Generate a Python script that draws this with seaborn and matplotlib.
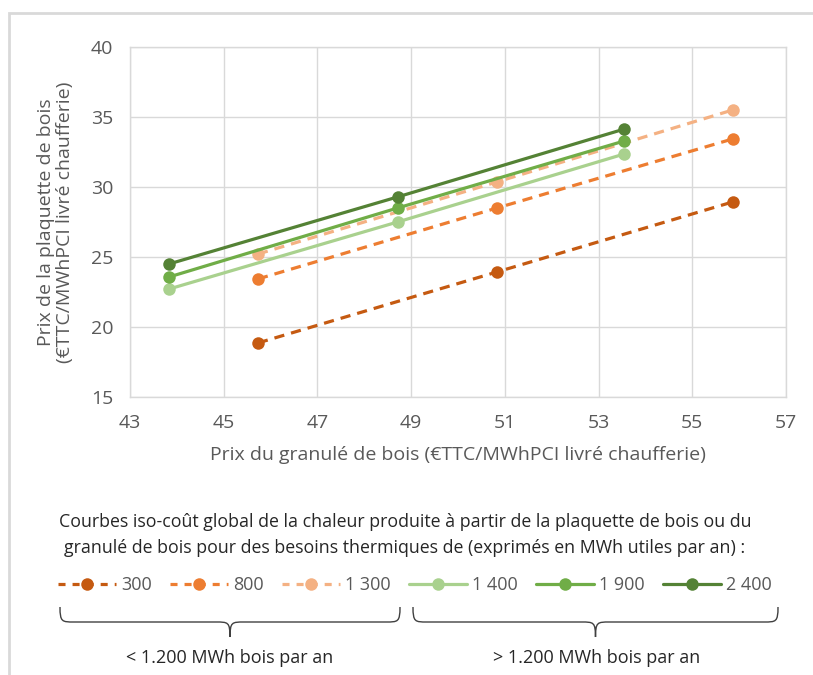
import seaborn as sns
import matplotlib.pyplot as plt
import matplotlib.patches as mpatches
from matplotlib.path import Path
from matplotlib.lines import Line2D
import pandas as pd

# Data
x_small = [45.73, 50.83, 55.86]     # < 1 200 MWh series
x_large = [43.83, 48.71, 53.55]     # > 1 200 MWh series

y_300 = [18.86, 23.93, 28.93]
y_800 = [23.43, 28.5, 33.43]
y_1300 = [25.21, 30.36, 35.5]
y_1400 = [22.71, 27.5, 32.36]
y_1900 = [23.57, 28.5, 33.29]
y_2400 = [24.5, 29.29, 34.14]

labels = ['300', '800', '1 300', '1 400', '1 900', '2 400']
xs = [x_small, x_small, x_small, x_large, x_large, x_large]
ys = [y_300, y_800, y_1300, y_1400, y_1900, y_2400]
colors = ['#C55A11', '#ED7D31', '#F4B183', '#A9D18E', '#70AD47', '#548235']
dashed = [True, True, True, False, False, False]

x_ticks = [43, 45, 47, 49, 51, 53, 55, 57]
y_ticks = [15, 20, 25, 30, 35, 40]

sns.set_theme(style='whitegrid')
plt.rcParams['font.family'] = ['Open Sans', 'DejaVu Sans']
narrow = ['Liberation Sans Narrow', 'Open Sans', 'DejaVu Sans']
grey = '#595959'

W, H = 813, 675
fig = plt.figure(figsize=(W / 100, H / 100), dpi=100)
ax = fig.add_axes([130 / W, 1 - 397 / H, (786 - 130) / W, (397 - 47) / H])

handles = []
for lab, x, y, c, d in zip(labels, xs, ys, colors, dashed):
    df = pd.DataFrame({'x': x, 'y': y})
    ls = (0, (3.2, 2.2)) if d else '-'
    sns.lineplot(data=df, x='x', y='y', ax=ax, color=c, linewidth=2.3,
                 linestyle=ls, marker='o', markersize=9, markeredgewidth=0,
                 legend=False)
    handles.append(Line2D([], [], color=c, linewidth=2.3,
                          linestyle=(0, (2.2, 2.2)) if d else '-',
                          marker='o', markersize=9, markeredgewidth=0, label=lab))

ax.set_xlim(43, 57)
ax.set_ylim(15, 40)
ax.set_xticks(x_ticks)
ax.set_yticks(y_ticks)
ax.grid(True, color='#D9D9D9', linewidth=1)
for s in ax.spines.values():
    s.set_visible(True)
    s.set_color('#D9D9D9')
    s.set_linewidth(1)
ax.tick_params(axis='both', length=0, labelsize=14, colors=grey)
ax.tick_params(axis='x', pad=12)
ax.tick_params(axis='y', pad=12)
ax.set_xlabel('Prix du granulé de bois (€TTC/MWhPCI livré chaufferie)',
              fontsize=14, color=grey, labelpad=10)
ax.set_ylabel('Prix de la plaquette de bois\n(€TTC/MWhPCI livré chaufferie)',
              fontsize=14, color=grey, labelpad=12, linespacing=1.05)

# outer frame
tf = fig.transFigure
fig.patches.append(mpatches.Rectangle((9 / W, -0.1), 1.2, 1 - 13 / H + 0.1,
                                      transform=tf, fill=False,
                                      edgecolor='#D9D9D9', linewidth=2))


def px(x, y):
    return (x / W, 1 - y / H)


fig.text(*px(405, 522), 'Courbes iso-coût global de la chaleur produite à partir de la plaquette de bois ou du',
         ha='center', va='center', fontsize=12.8, family=narrow, color='#262626')
fig.text(*px(405, 548), 'granulé de bois pour des besoins thermiques de (exprimés en MWh utiles par an) :',
         ha='center', va='center', fontsize=12.8, family=narrow, color='#262626')

fig.legend(handles=handles, loc='center', bbox_to_anchor=px(415, 585), ncol=6,
           frameon=False, handlelength=3.2, handletextpad=0.3, columnspacing=1.0,
           prop={'family': narrow, 'size': 13}, labelcolor=grey)


def brace(x0, x1, ytop, ybot):
    xm = (x0 + x1) / 2
    ymid = (ytop + ybot) / 2
    r = 14
    verts = [px(x0, ytop),
             px(x0, ymid), px(x0 + 2, ymid), px(x0 + r, ymid),
             px(xm - r, ymid),
             px(xm - 2, ymid), px(xm, ymid), px(xm, ybot),
             px(xm, ymid), px(xm + 2, ymid), px(xm + r, ymid),
             px(x1 - r, ymid),
             px(x1 - 2, ymid), px(x1, ymid), px(x1, ytop)]
    codes = [Path.MOVETO, Path.CURVE4, Path.CURVE4, Path.CURVE4, Path.LINETO,
             Path.CURVE4, Path.CURVE4, Path.CURVE4,
             Path.CURVE4, Path.CURVE4, Path.CURVE4, Path.LINETO,
             Path.CURVE4, Path.CURVE4, Path.CURVE4]
    p = mpatches.PathPatch(Path(verts, codes), transform=tf, fill=False,
                           edgecolor='#404040', linewidth=1)
    fig.patches.append(p)


brace(60, 400, 607, 637)
brace(413, 778, 607, 637)

fig.text(*px(230, 658), '< 1.200 MWh bois par an', ha='center', va='center',
         fontsize=13, family=narrow, color='#262626')
fig.text(*px(597, 658), '> 1.200 MWh bois par an', ha='center', va='center',
         fontsize=13, family=narrow, color='#262626')

fig.savefig('out.png', dpi=100)
